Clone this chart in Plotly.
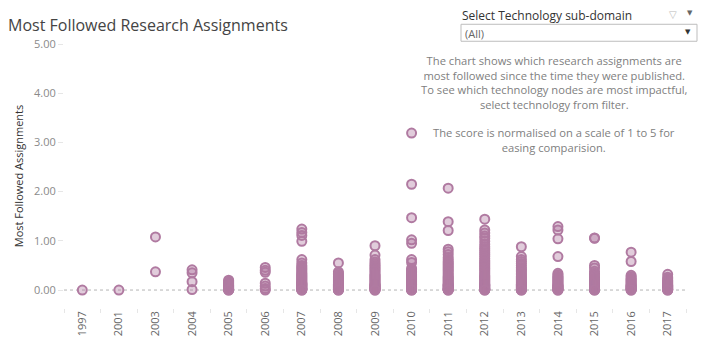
import plotly.graph_objects as go

years = ["1997", "2001", "2003", "2004", "2005", "2006", "2007", "2008", "2009",
         "2010", "2011", "2012", "2013", "2014", "2015", "2016", "2017"]

scores_1997 = [0.00]
scores_2001 = [0.00]
scores_2003 = [1.08, 0.37]
scores_2004 = [0.41, 0.35, 0.17, 0.01]
scores_2005 = [0.20, 0.18, 0.16, 0.14, 0.12, 0.10, 0.09, 0.08, 0.07, 0.06, 0.05, 0.04,
               0.03, 0.02, 0.02, 0.01, 0.01, 0.00, 0.00]
scores_2006 = [0.46, 0.40, 0.36, 0.14, 0.08, 0.03, 0.00]
scores_2007 = [1.24, 1.17, 1.11, 0.99, 0.62, 0.55, 0.50, 0.47, 0.44, 0.41, 0.38, 0.35,
               0.33, 0.31, 0.29, 0.27, 0.25, 0.23, 0.21, 0.19, 0.17, 0.15, 0.14, 0.13,
               0.12, 0.11, 0.10, 0.09, 0.08, 0.07, 0.06, 0.05, 0.04, 0.03, 0.02, 0.02,
               0.01, 0.01, 0.00, 0.00]
scores_2008 = [0.55, 0.37, 0.34, 0.31, 0.28, 0.26, 0.24, 0.22, 0.20, 0.18, 0.16, 0.14,
               0.12, 0.11, 0.10, 0.09, 0.08, 0.07, 0.06, 0.05, 0.04, 0.03, 0.02, 0.01,
               0.01, 0.00, 0.00]
scores_2009 = [0.90, 0.71, 0.62, 0.57, 0.53, 0.50, 0.47, 0.44, 0.41, 0.38, 0.35, 0.32,
               0.30, 0.28, 0.26, 0.24, 0.22, 0.20, 0.18, 0.16, 0.14, 0.12, 0.11, 0.10,
               0.09, 0.08, 0.07, 0.06, 0.05, 0.04, 0.03, 0.02, 0.01, 0.01, 0.00, 0.00]
scores_2010 = [3.19, 2.15, 1.47, 1.02, 0.95, 0.62, 0.56, 0.44, 0.41, 0.38, 0.35, 0.32,
               0.30, 0.28, 0.26, 0.24, 0.22, 0.20, 0.18, 0.16, 0.14, 0.12, 0.11, 0.10,
               0.09, 0.08, 0.07, 0.06, 0.05, 0.04, 0.03, 0.02, 0.02, 0.01, 0.01, 0.00, 0.00]
scores_2011 = [2.07, 1.39, 1.21, 0.83, 0.78, 0.72, 0.66, 0.62, 0.58, 0.55, 0.52, 0.49,
               0.46, 0.43, 0.40, 0.37, 0.34, 0.31, 0.28, 0.26, 0.24, 0.22, 0.20, 0.18,
               0.16, 0.14, 0.12, 0.11, 0.10, 0.09, 0.08, 0.07, 0.06, 0.05, 0.04, 0.03,
               0.02, 0.02, 0.01, 0.01, 0.00, 0.00]
scores_2012 = [1.44, 1.22, 1.16, 1.10, 1.05, 0.99, 0.93, 0.88, 0.84, 0.80, 0.76, 0.72,
               0.68, 0.64, 0.60, 0.57, 0.54, 0.51, 0.48, 0.45, 0.42, 0.39, 0.36, 0.33,
               0.30, 0.28, 0.26, 0.24, 0.22, 0.20, 0.18, 0.16, 0.14, 0.12, 0.11, 0.10,
               0.09, 0.08, 0.07, 0.06, 0.05, 0.04, 0.03, 0.02, 0.02, 0.01, 0.01, 0.00, 0.00]
scores_2013 = [0.88, 0.68, 0.62, 0.58, 0.54, 0.50, 0.46, 0.43, 0.40, 0.37, 0.34, 0.31,
               0.28, 0.26, 0.24, 0.22, 0.20, 0.18, 0.16, 0.14, 0.12, 0.11, 0.10, 0.09,
               0.08, 0.07, 0.06, 0.05, 0.04, 0.03, 0.02, 0.01, 0.01, 0.00, 0.00]
scores_2014 = [1.29, 1.22, 1.04, 0.68, 0.34, 0.31, 0.28, 0.26, 0.24, 0.22, 0.20, 0.18,
               0.16, 0.14, 0.12, 0.10, 0.09, 0.08, 0.07, 0.06, 0.05, 0.04, 0.03, 0.02,
               0.01, 0.01, 0.00, 0.00]
scores_2015 = [1.06, 1.05, 0.50, 0.45, 0.38, 0.34, 0.31, 0.28, 0.25, 0.22, 0.20, 0.18,
               0.16, 0.14, 0.12, 0.10, 0.09, 0.08, 0.07, 0.06, 0.05, 0.04, 0.03, 0.02,
               0.01, 0.01, 0.00, 0.00]
scores_2016 = [0.77, 0.58, 0.30, 0.27, 0.24, 0.22, 0.20, 0.18, 0.16, 0.14, 0.12, 0.10,
               0.09, 0.08, 0.07, 0.06, 0.05, 0.04, 0.03, 0.02, 0.01, 0.01, 0.00, 0.00]
scores_2017 = [0.32, 0.26, 0.23, 0.20, 0.18, 0.16, 0.14, 0.12, 0.10, 0.09, 0.08, 0.07,
               0.06, 0.05, 0.04, 0.03, 0.02, 0.01, 0.01, 0.00, 0.00]

scores_by_year = [scores_1997, scores_2001, scores_2003, scores_2004, scores_2005,
                  scores_2006, scores_2007, scores_2008, scores_2009, scores_2010,
                  scores_2011, scores_2012, scores_2013, scores_2014, scores_2015,
                  scores_2016, scores_2017]

y_ticks = [0, 1, 2, 3, 4, 5]

title_text = "Most Followed Research Assignments"
y_title = "Most Followed Assignments"
filter_label = "Select Technology sub-domain"
filter_value = "(All)"
note_lines_1 = ["The chart shows which research assignments are",
                "most followed since the time they were published.",
                "To see which technology nodes are most impactful,",
                "select technology from filter."]
note_lines_2 = ["The score is normalised on a scale of 1 to 5 for",
                "easing comparision."]

# ---- build
xs, ys = [], []
for yr, vals in zip(years, scores_by_year):
    for v in vals:
        xs.append(yr)
        ys.append(v)

W, H = 702, 351
L, R, T, B = 64, 686, 43.75, 308
FONT = "Open Sans"


def px(xp):
    return (xp - L) / (R - L)


def py(yp):
    return (B - yp) / (B - T)


fig = go.Figure()
fig.add_trace(go.Scatter(
    x=xs, y=ys, mode="markers",
    marker=dict(size=9, color="rgba(176,122,161,0.38)",
                line=dict(color="#b07aa1", width=2)),
    hoverinfo="x+y", showlegend=False,
))

fig.add_shape(type="line", xref="paper", yref="y", x0=0, x1=1, y0=0, y1=0,
              line=dict(color="#b5b5b5", width=1, dash="dot"), layer="below")

annotations = []
annotations.append(dict(text=title_text, xref="paper", yref="paper", x=px(6), y=py(25),
                        xanchor="left", yanchor="middle", showarrow=False,
                        font=dict(family=FONT, size=16, color="#444")))
annotations.append(dict(text=filter_label, xref="paper", yref="paper", x=px(460), y=py(15),
                        xanchor="left", yanchor="middle", showarrow=False,
                        font=dict(family=FONT, size=12, color="#333")))
annotations.append(dict(text="▽", xref="paper", yref="paper", x=px(673), y=py(14),
                        xanchor="center", yanchor="middle", showarrow=False,
                        font=dict(family="DejaVu Sans", size=10, color="#bbb")))
annotations.append(dict(text="▼", xref="paper", yref="paper", x=px(690), y=py(13),
                        xanchor="center", yanchor="middle", showarrow=False,
                        font=dict(family="DejaVu Sans", size=7, color="#666")))
annotations.append(dict(text=filter_value, xref="paper", yref="paper", x=px(463), y=py(33),
                        xanchor="left", yanchor="middle", showarrow=False,
                        font=dict(family=FONT, size=11, color="#666")))
annotations.append(dict(text="▼", xref="paper", yref="paper", x=px(688), y=py(32),
                        xanchor="center", yanchor="middle", showarrow=False,
                        font=dict(family="DejaVu Sans", size=7, color="#333")))
annotations.append(dict(text="<br>".join(note_lines_1), xref="paper", yref="paper",
                        x=px(554), y=py(82.5), xanchor="center", yanchor="middle",
                        align="center", showarrow=False,
                        font=dict(family=FONT, size=11.2, color="#808080")))
annotations.append(dict(text="<br>".join(note_lines_2), xref="paper", yref="paper",
                        x=px(554), y=py(140), xanchor="center", yanchor="middle",
                        align="center", showarrow=False,
                        font=dict(family=FONT, size=11.2, color="#808080")))

fig.add_shape(type="rect", xref="paper", yref="paper", x0=px(461), x1=px(697),
              y0=py(41), y1=py(24), line=dict(color="#bdbdbd", width=1),
              fillcolor="white", layer="above")

fig.update_layout(
    width=W, height=H,
    margin=dict(l=L, r=W - R, t=T, b=H - B, pad=0),
    paper_bgcolor="white", plot_bgcolor="white",
    font=dict(family=FONT),
    annotations=annotations,
    xaxis=dict(type="category", categoryorder="array", categoryarray=years,
               tickangle=-90, tickfont=dict(size=11, color="#666"),
               showgrid=False, zeroline=False, showline=False,
               ticks="outside", tickson="boundaries", ticklen=4, tickcolor="#e6e6e6",
               range=[-0.5, len(years) - 0.5], fixedrange=True),
    yaxis=dict(range=[-0.365, 5.0], tickvals=y_ticks, tickformat=".2f",
               tickfont=dict(size=11, color="#8a8a8a"),
               showgrid=False, zeroline=False, showline=False,
               ticks="outside", ticklen=5, tickcolor="#e6e6e6",
               title=dict(text=y_title, font=dict(size=11, color="#333"), standoff=8),
               fixedrange=True),
)

fig.write_html("out.html")
